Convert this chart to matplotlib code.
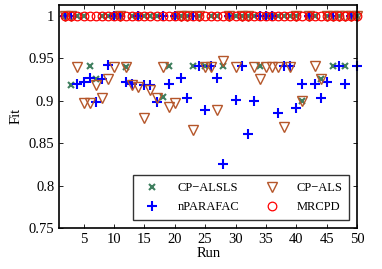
import numpy as np
import matplotlib
matplotlib.use('Agg')
import matplotlib.pyplot as plt
from matplotlib.ticker import FormatStrFormatter

plt.rcParams['font.family'] = ['Liberation Serif', 'DejaVu Serif']

runs = list(range(2, 51))

# fit per run (runs 2..50), values near 1 sit in the top row
cp_alsls = [0.999, 0.918, 0.999, 0.999, 0.941, 0.926, 0.999, 0.999, 0.999, 0.999,
            0.940, 0.999, 0.999, 0.999, 0.999, 0.999, 0.904, 0.941, 0.999, 0.999,
            0.999, 0.941, 0.999, 0.941, 0.999, 0.999, 0.941, 0.999, 0.999, 0.999,
            0.999, 0.999, 0.941, 0.999, 0.999, 0.999, 0.999, 0.999, 0.999, 0.899,
            0.999, 0.999, 0.926, 0.999, 0.941, 0.999, 0.941, 0.999, 0.999]
cp_als = [0.999, 0.999, 0.940, 0.897, 0.897, 0.918, 0.903, 0.925, 0.940, 0.999,
          0.940, 0.918, 0.916, 0.879, 0.912, 0.903, 0.940, 0.893, 0.897, 0.999,
          0.999, 0.865, 0.999, 0.940, 0.940, 0.889, 0.947, 0.999, 0.940, 0.999,
          0.999, 0.940, 0.925, 0.940, 0.940, 0.940, 0.869, 0.940, 0.999, 0.899,
          0.999, 0.941, 0.926, 0.999, 0.999, 0.999, 0.999, 0.999, 0.999]
nparafac = [0.999, 0.999, 0.919, 0.922, 0.927, 0.898, 0.926, 0.942, 0.999, 0.999,
            0.922, 0.920, 0.999, 0.918, 0.918, 0.898, 0.999, 0.919, 0.999, 0.927,
            0.903, 0.999, 0.941, 0.889, 0.941, 0.927, 0.826, 0.999, 0.901, 0.941,
            0.861, 0.899, 0.999, 0.999, 0.999, 0.886, 0.941, 0.941, 0.891, 0.919,
            0.999, 0.919, 0.903, 0.922, 0.999, 0.941, 0.919, 0.999, 0.941]
mrcpd = [0.999] * 49

fig = plt.figure(figsize=(3.82, 2.69), dpi=100)
ax = fig.add_axes([0.155, 0.152, 0.78, 0.831])

h1, = ax.plot(runs, cp_alsls, 'x', color='#3f7f5f', ms=4.5, mew=1.5, clip_on=False)
h2, = ax.plot(runs, nparafac, '+', color='#0000ff', ms=7, mew=1.5, clip_on=False)
h3, = ax.plot(runs, cp_als, 'v', color='#b5562a', mfc='none', ms=6.5, mew=1, clip_on=False)
h4, = ax.plot(runs, mrcpd, 'o', color='#ff0000', mfc='none', ms=6.2, mew=0.9, clip_on=False)

ax.set_xlim(1, 50)
ax.set_ylim(0.75, 1.013)
ax.set_xticks(range(5, 51, 5))
ax.set_yticks([0.75, 0.8, 0.85, 0.9, 0.95, 1.0])
ax.yaxis.set_major_formatter(FormatStrFormatter('%g'))
ax.tick_params(direction='in', top=True, right=True, labelsize=10.5, length=3, width=0.6)
for s in ax.spines.values():
    s.set_linewidth(1.2)

ax.set_xlabel('Run', fontsize=10.5, labelpad=1)
ax.set_ylabel('Fit', fontsize=10.5, labelpad=4)

leg = ax.legend([h1, h2, h3, h4], ['CP\u2212ALSLS', 'nPARAFAC', 'CP\u2212ALS', 'MRCPD'],
                ncol=2, loc='lower right', bbox_to_anchor=(0.974, 0.036), borderaxespad=0,
                fontsize=9, fancybox=False, framealpha=1, edgecolor='#333333',
                columnspacing=1.6, handletextpad=1.0, borderpad=0.55, labelspacing=0.55)
leg.get_frame().set_linewidth(1.0)

fig.savefig('out.png', dpi=100)
